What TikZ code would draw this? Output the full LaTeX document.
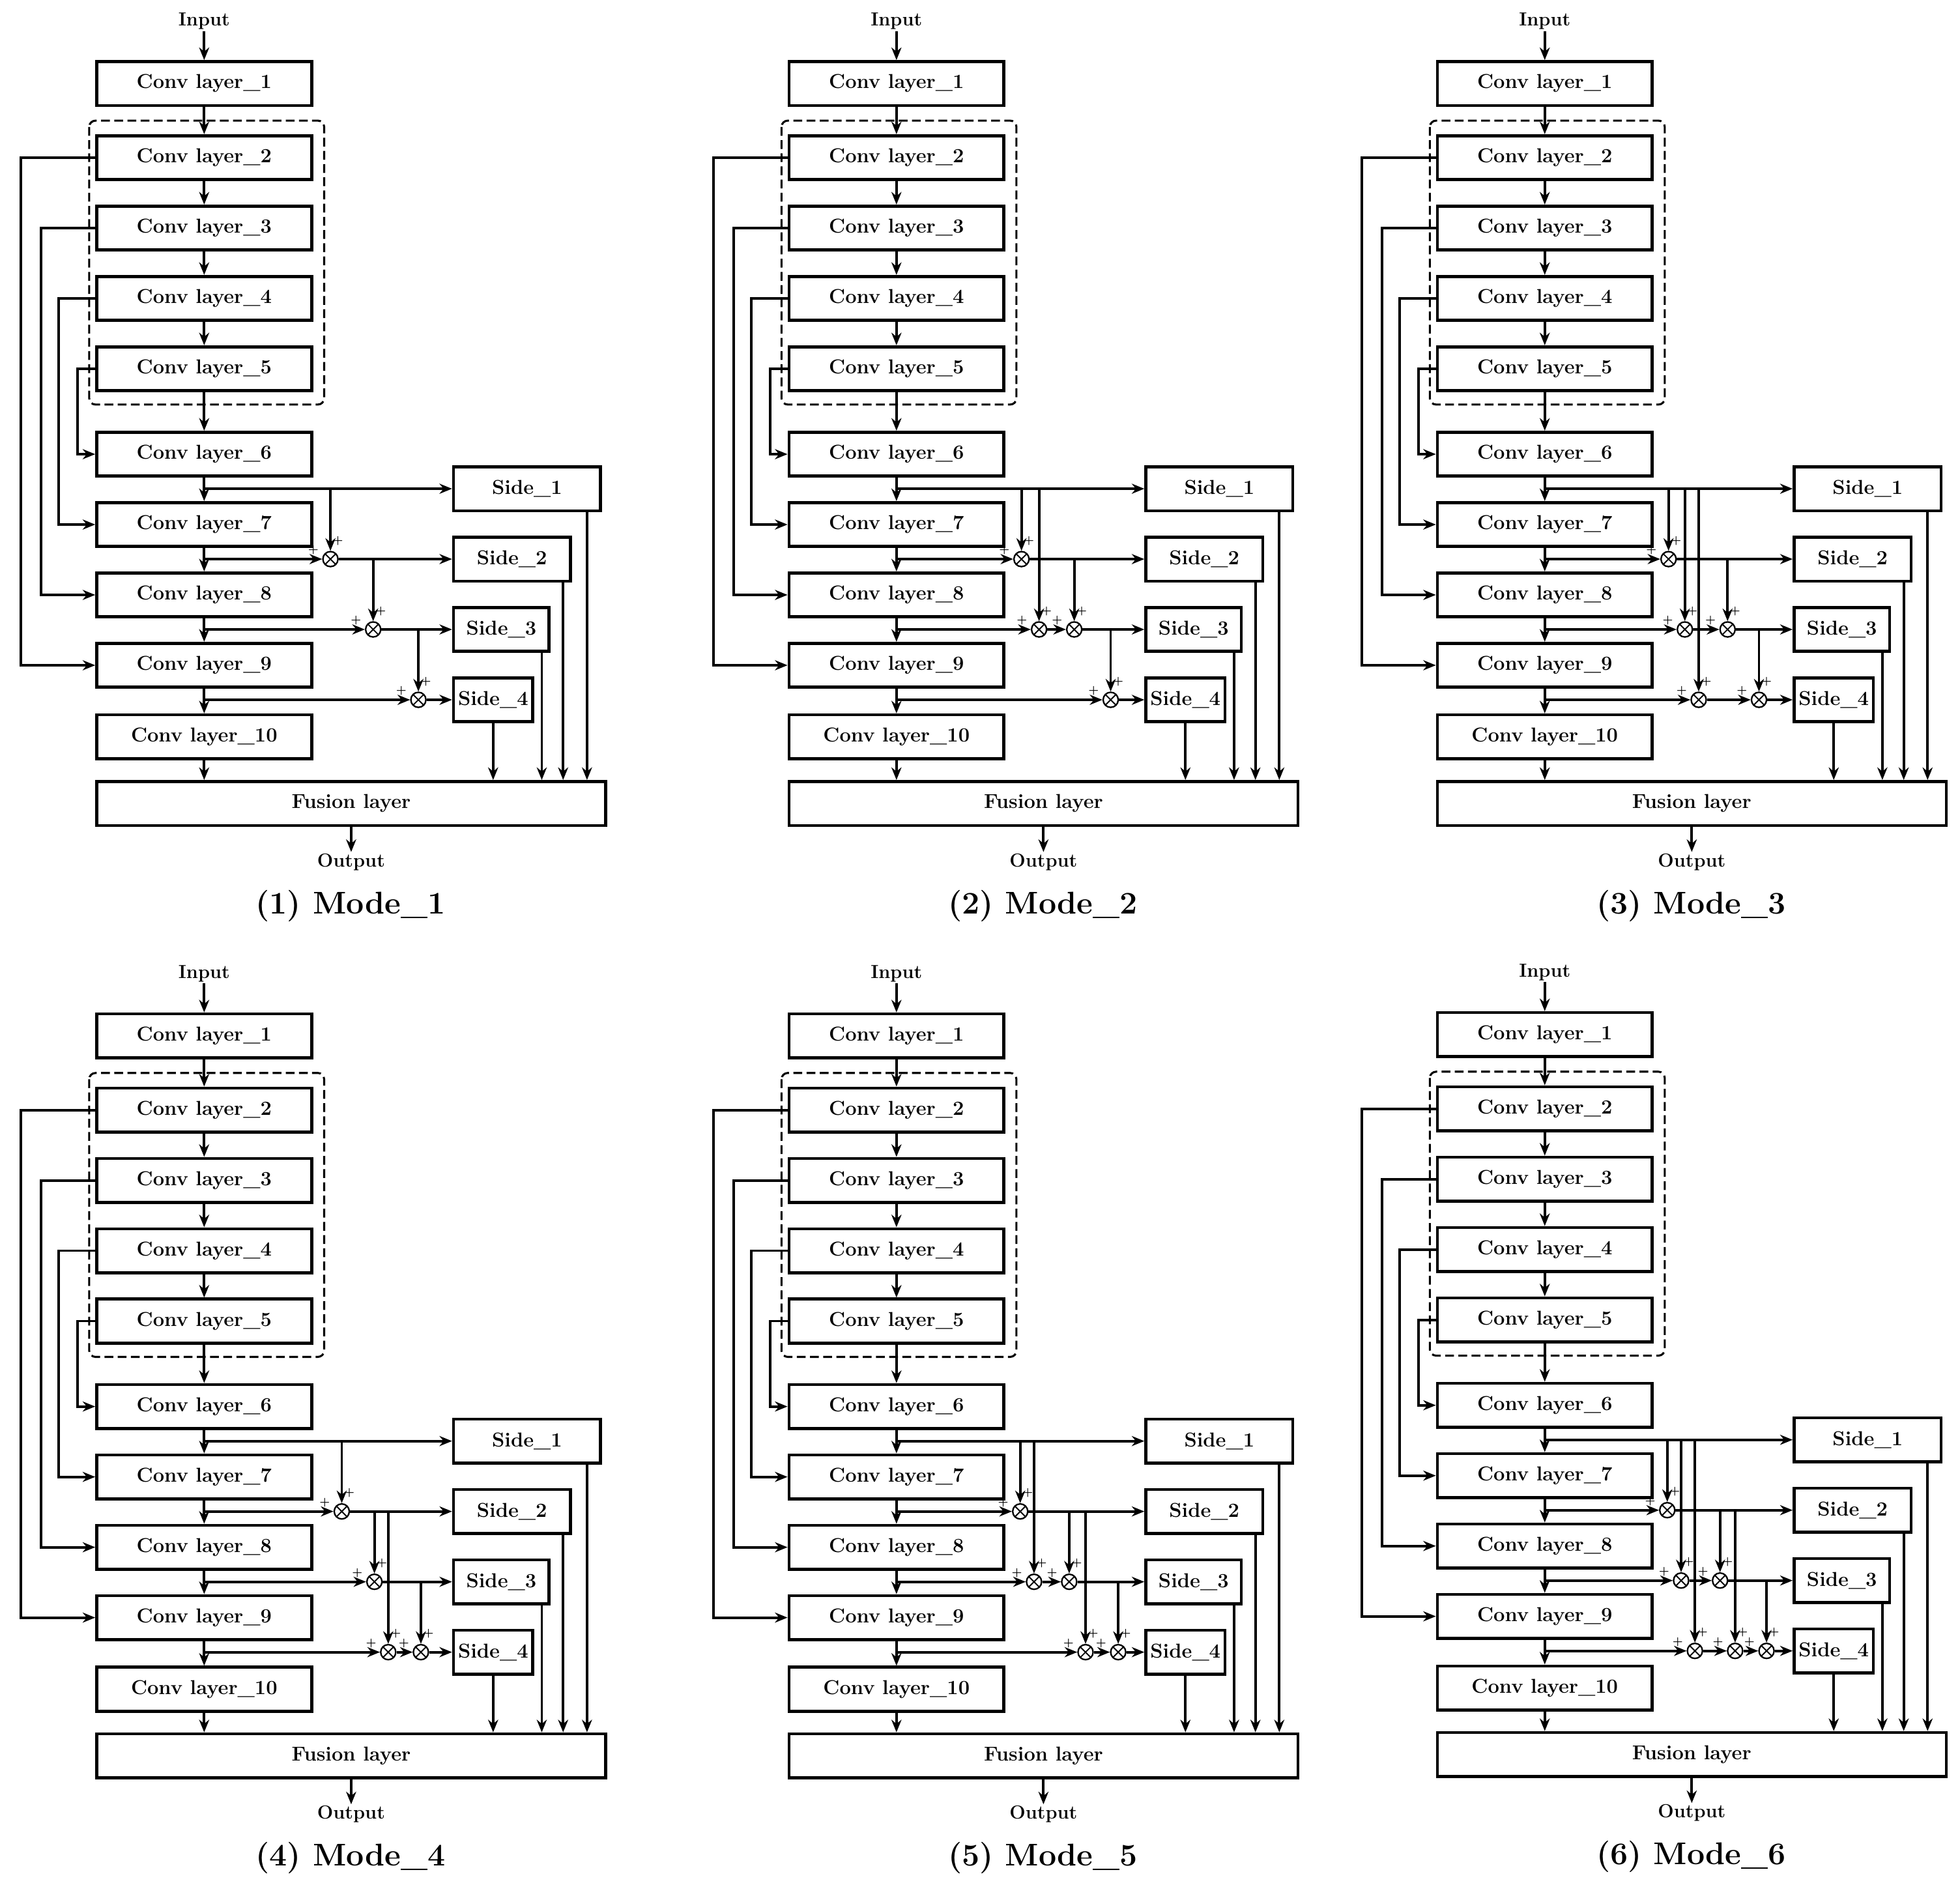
\documentclass[tikz,border=0pt]{standalone}
\usetikzlibrary{arrows.meta}
\tikzset{
 conv/.style={draw, line width=2.4pt, minimum width=171pt, minimum height=35pt, inner sep=0pt, font=\fontsize{16}{16}\selectfont\bfseries},
 side/.style={draw, line width=2.4pt, minimum height=35pt, inner sep=0pt, font=\fontsize{16}{16}\selectfont\bfseries},
 lbl/.style={font=\fontsize{15}{15}\selectfont\bfseries, inner sep=1pt},
 ttl/.style={font=\fontsize{25}{25}\selectfont\bfseries},
 arr/.style={line width=2pt, -{Stealth[length=10pt,width=8pt]}},
 dbox/.style={dashed, dash pattern=on 7pt off 3.5pt, line width=1.6pt, rounded corners=5pt},
 mul/.style={circle, draw, line width=1.2pt, minimum size=12pt, inner sep=0pt, fill=white,
   path picture={\draw[line width=1pt] (path picture bounding box.north west)--(path picture bounding box.south east) (path picture bounding box.north east)--(path picture bounding box.south west);}},
 plus/.style={font=\fontsize{9}{9}\selectfont\bfseries, inner sep=0pt}
}
\newcommand\mulnode[5]{%
 \coordinate (#1-#2t) at (#3,#5);
 \node[mul] (#1-#2) at (#3,#4) {};
 \draw[arr] (#1-#2t) -- (#1-#2.north);
 \node[plus] at ([shift={(-7,-7)}]#1-#2.west) {+};
 \node[plus] at ([shift={(6,-8)}]#1-#2.north) {+};}
\newcommand\panel[4]{%
\begin{scope}[shift={(#2,#3)}]
 \node[lbl] (#1-in) at (162.5,17) {Input};
 \foreach \i/\yy in {1/66.5,2/125.5,3/181.5,4/237.5,5/293.5,6/361.5,7/417.5,8/473.5,9/529.5,10/586.5}
   \node[conv] (#1-c\i) at (162.5,\yy) {Conv layer\_\i};
 \draw[dbox] (71,96) rectangle (258,322);
 \node[conv, minimum width=405pt] (#1-fu) at (279.5,639.5) {Fusion layer};
 \node[lbl] (#1-out) at (279.5,686) {Output};
 \node[ttl] (#1-tt) at (279,721) {(#4) Mode\_#4};
 \draw[arr] (#1-in) -- (#1-c1);
 \foreach \i [evaluate=\i as \j using int(\i+1)] in {1,...,9}
   \draw[arr] (#1-c\i.south) -- (#1-c\j.north);
 \draw[arr] (#1-c10.south) -- (#1-c10.south |- #1-fu.north);
 \draw[arr] (#1-fu.south) -- (#1-out.north);
 \draw[arr] (#1-c2.west) -- ++(-59,0) |- (#1-c9.west);
 \draw[arr] (#1-c3.west) -- ++(-43,0) |- (#1-c8.west);
 \draw[arr] (#1-c4.west) -- ++(-29,0) |- (#1-c7.west);
 \draw[arr] (#1-c5.west) -- ++(-14,0) |- (#1-c6.west);
 \node[side, minimum width=117pt] (#1-s1) at (419.5,389) {Side\_1};
 \node[side, minimum width=93pt] (#1-s2) at (407.5,445) {Side\_2};
 \node[side, minimum width=76pt] (#1-s3) at (399,501) {Side\_3};
 \node[side, minimum width=63pt] (#1-s4) at (392.5,557) {Side\_4};
 \coordinate (#1-j1) at (162.5,389);
 \coordinate (#1-j2) at (162.5,445);
 \coordinate (#1-j3) at (162.5,501);
 \coordinate (#1-j4) at (162.5,557);
 \draw[arr] (#1-j1) -- (#1-s1.west);
 \draw[arr] ([xshift=-12pt]#1-s1.south east) -- ([xshift=-12pt]#1-s1.south east |- #1-fu.north);
 \draw[arr] ([xshift=-7pt]#1-s2.south east) -- ([xshift=-7pt]#1-s2.south east |- #1-fu.north);
 \draw[arr] ([xshift=-7pt]#1-s3.south east) -- ([xshift=-7pt]#1-s3.south east |- #1-fu.north);
 \draw[arr] (#1-s4.south) -- (#1-s4.south |- #1-fu.north);
\end{scope}}
\newcommand\link[3]{\draw[arr] (#1-#2) -- (#1-#3.west);}
\newcommand\linke[3]{\draw[arr] (#1-#2.east) -- (#1-#3.west);}
\begin{document}
\begin{tikzpicture}[x=1pt,y=-1pt]
\useasboundingbox (0,0) rectangle (1560,1500);
% Mode 1
\panel{A}{0}{0}{1}
\begin{scope}[shift={(0,0)}]
 \mulnode{A}{a}{263}{445}{389}
 \mulnode{A}{b}{297}{501}{445}
 \mulnode{A}{c}{333}{557}{501}
 \link{A}{j2}{a} \linke{A}{a}{s2}
 \link{A}{j3}{b} \linke{A}{b}{s3}
 \link{A}{j4}{c} \linke{A}{c}{s4}
\end{scope}
% Mode 2
\panel{B}{551}{0}{2}
\begin{scope}[shift={(551,0)}]
 \mulnode{B}{a}{262}{445}{389}
 \mulnode{B}{b}{276}{501}{389}
 \mulnode{B}{c}{304}{501}{445}
 \mulnode{B}{d}{333}{557}{501}
 \link{B}{j2}{a} \linke{B}{a}{s2}
 \link{B}{j3}{b} \linke{B}{b}{c} \linke{B}{c}{s3}
 \link{B}{j4}{d} \linke{B}{d}{s4}
\end{scope}
% Mode 3
\panel{C}{1067}{0}{3}
\begin{scope}[shift={(1067,0)}]
 \mulnode{C}{a}{261}{445}{389}
 \mulnode{C}{b}{274}{501}{389}
 \mulnode{C}{c}{308}{501}{445}
 \mulnode{C}{d}{285}{557}{389}
 \mulnode{C}{e}{333}{557}{501}
 \link{C}{j2}{a} \linke{C}{a}{s2}
 \link{C}{j3}{b} \linke{C}{b}{c} \linke{C}{c}{s3}
 \link{C}{j4}{d} \linke{C}{d}{e} \linke{C}{e}{s4}
\end{scope}
% Mode 4
\panel{D}{0}{758}{4}
\begin{scope}[shift={(0,758)}]
 \mulnode{D}{a}{272}{445}{389}
 \mulnode{D}{b}{298}{501}{445}
 \mulnode{D}{c}{309}{557}{445}
 \mulnode{D}{d}{335}{557}{501}
 \link{D}{j2}{a} \linke{D}{a}{s2}
 \link{D}{j3}{b} \linke{D}{b}{s3}
 \link{D}{j4}{c} \linke{D}{c}{d} \linke{D}{d}{s4}
\end{scope}
% Mode 5
\panel{E}{551}{758}{5}
\begin{scope}[shift={(551,758)}]
 \mulnode{E}{a}{261}{445}{389}
 \mulnode{E}{b}{272}{501}{389}
 \mulnode{E}{c}{300}{501}{445}
 \mulnode{E}{d}{313}{557}{445}
 \mulnode{E}{e}{339}{557}{501}
 \link{E}{j2}{a} \linke{E}{a}{s2}
 \link{E}{j3}{b} \linke{E}{b}{c} \linke{E}{c}{s3}
 \link{E}{j4}{d} \linke{E}{d}{e} \linke{E}{e}{s4}
\end{scope}
% Mode 6
\panel{F}{1067}{757}{6}
\begin{scope}[shift={(1067,757)}]
 \mulnode{F}{a}{260}{445}{389}
 \mulnode{F}{b}{271}{501}{389}
 \mulnode{F}{c}{302}{501}{445}
 \mulnode{F}{d}{282}{557}{389}
 \mulnode{F}{e}{314}{557}{445}
 \mulnode{F}{f}{339}{557}{501}
 \link{F}{j2}{a} \linke{F}{a}{s2}
 \link{F}{j3}{b} \linke{F}{b}{c} \linke{F}{c}{s3}
 \link{F}{j4}{d} \linke{F}{d}{e} \linke{F}{e}{f} \linke{F}{f}{s4}
\end{scope}
\end{tikzpicture}
\end{document}
